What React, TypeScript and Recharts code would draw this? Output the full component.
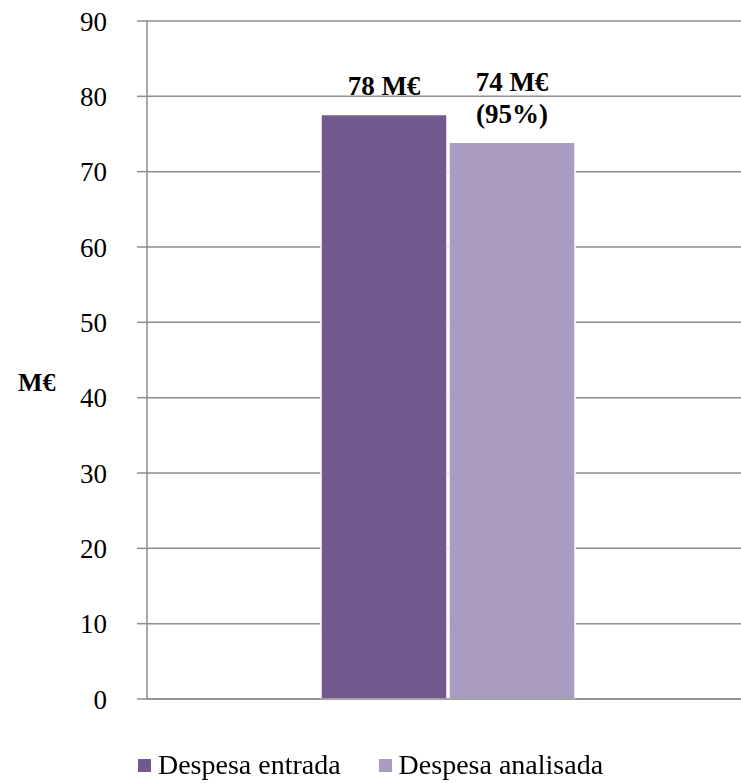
import { BarChart, Bar, XAxis, YAxis, CartesianGrid, Legend } from "recharts";

const categories = [""];
const entradaValues = [77.6];
const analisadaValues = [73.9];
const entradaLabels = ["78 M€"];
const analisadaLabels = ["74 M€", "(95%)"];
const yTicks = [0, 10, 20, 30, 40, 50, 60, 70, 80, 90];

const SERIES = [
  { key: "entrada", name: "Despesa entrada", color: "#725A8E", labels: entradaLabels },
  { key: "analisada", name: "Despesa analisada", color: "#AA9BC0", labels: analisadaLabels },
];

const data = categories.map((c, i) => ({
  category: c,
  entrada: entradaValues[i],
  analisada: analisadaValues[i],
}));

const FONT = "'Liberation Serif', 'DejaVu Serif', serif";
const GRID = "#8c8c8c";

const makeLabel = (lines: string[]) => (props: any) => {
  const { x, y, width } = props;
  const cx = Number(x) + Number(width) / 2;
  const n = lines.length;
  return (
    <g>
      {lines.map((t, i) => (
        <text
          key={i}
          x={cx}
          y={Number(y) - 19 - (n - 1 - i) * 32}
          textAnchor="middle"
          fontFamily={FONT}
          fontWeight="bold"
          fontSize={27}
          fill="#000"
        >
          {t}
        </text>
      ))}
    </g>
  );
};

const CustomLegend = () => (
  <div style={{ display: "flex", justifyContent: "center", gap: 38, fontFamily: FONT, fontSize: 28, height: 40, alignItems: "center" }}>
    {SERIES.map((s) => (
      <div key={s.key} style={{ display: "flex", alignItems: "center", gap: 7 }}>
        <div style={{ width: 13, height: 13, backgroundColor: s.color }} />
        <span style={{ color: "#000" }}>{s.name}</span>
      </div>
    ))}
  </div>
);

export default function App() {
  return (
    <div style={{ position: "fixed", left: 0, top: 0, width: 741, height: 783, background: "#fff" }}>
      <BarChart
        width={741}
        height={783}
        data={data}
        margin={{ top: 21, right: -8, left: 0, bottom: 43 }}
        barGap={2}
        barCategoryGap={0}
      >
        <CartesianGrid vertical={false} stroke={GRID} strokeWidth={1.5} />
        <XAxis dataKey="category" tick={false} tickLine={false} height={1} axisLine={{ stroke: GRID, strokeWidth: 1.5 }} />
        <YAxis
          domain={[0, 90]}
          ticks={yTicks}
          width={147}
          tickSize={10}
          tickMargin={30}
          axisLine={{ stroke: GRID, strokeWidth: 1.5 }}
          tickLine={{ stroke: GRID, strokeWidth: 1.5 }}
          tick={{ fontFamily: FONT, fontSize: 27, fill: "#000" }}
          label={{
            value: "M€",
            position: "insideLeft",
            offset: 18,
            dy: 22,
            style: { fontFamily: FONT, fontWeight: "bold", fontSize: 26, fill: "#000", textAnchor: "start" },
          }}
        />
        <Legend verticalAlign="bottom" content={<CustomLegend />} wrapperStyle={{ top: 745, bottom: "auto", left: 0, width: 741 }} />
        {SERIES.map((s) => (
          <Bar
            key={s.key}
            dataKey={s.key}
            name={s.name}
            fill={s.color}
            stroke="#fff"
            strokeWidth={1.5}
            barSize={126}
            isAnimationActive={false}
            label={makeLabel(s.labels)}
          />
        ))}
      </BarChart>
    </div>
  );
}
